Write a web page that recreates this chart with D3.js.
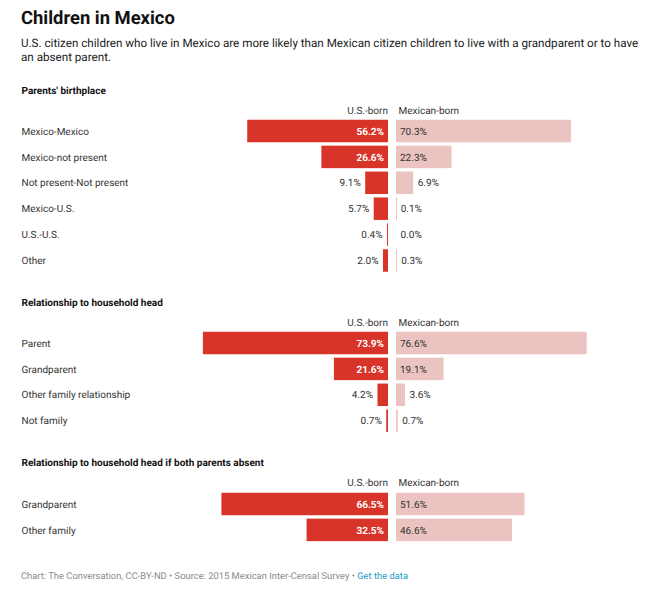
<!DOCTYPE html>
<html><head><meta charset="utf-8">
<script src="https://cdn.jsdelivr.net/npm/d3@7/dist/d3.min.js"></script>
<style>html,body{margin:0;padding:0;background:#fff}svg{display:block;font-family:Roboto,sans-serif;text-rendering:geometricPrecision}</style>
</head><body><svg id="c" width="645" height="595"></svg>
<script>
const sectionTitles = ["Parents' birthplace","Relationship to household head","Relationship to household head if both parents absent"];
const categories1 = ["Mexico-Mexico","Mexico-not present","Not present-Not present","Mexico-U.S.","U.S.-U.S.","Other"];
const usBorn1 = [56.2,26.6,9.1,5.7,0.4,2.0];
const mexBorn1 = [70.3,22.3,6.9,0.1,0.0,0.3];
const categories2 = ["Parent","Grandparent","Other family relationship","Not family"];
const usBorn2 = [73.9,21.6,4.2,0.7];
const mexBorn2 = [76.6,19.1,3.6,0.7];
const categories3 = ["Grandparent","Other family"];
const usBorn3 = [66.5,32.5];
const mexBorn3 = [51.6,46.6];
const seriesNames = ["U.S.-born","Mexican-born"];

const svg = d3.select("#c");
const RED="#d93429", PINK="#ebc3c0", DARK="#333333";
const LABEL=10;
const xL = d3.scaleLinear().domain([0,100]).range([388,137.5]);
const xR = d3.scaleLinear().domain([0,100]).range([396,645]);

svg.append("text").attr("x",21).attr("y",24).attr("font-size",18.4).attr("font-weight",700).attr("fill","#111").text("Children in Mexico");
svg.append("text").attr("x",21).attr("y",47).attr("font-size",11.65).attr("fill","#222").text("U.S. citizen children who live in Mexico are more likely than Mexican citizen children to live with a grandparent or to have");
svg.append("text").attr("x",21).attr("y",61).attr("font-size",11.65).attr("fill","#222").text("an absent parent.");

function section(title,cats,us,mex,titleY,headY,firstCenter){
  svg.append("text").attr("x",21.5).attr("y",titleY).attr("font-size",LABEL).attr("font-weight",700).attr("fill","#111").text(title);
  svg.append("text").attr("x",388).attr("y",headY).attr("text-anchor","end").attr("font-size",LABEL).attr("fill",DARK).text(seriesNames[0]);
  svg.append("text").attr("x",398.5).attr("y",headY).attr("font-size",LABEL).attr("fill",DARK).text(seriesNames[1]);
  const y = d3.scalePoint().domain(cats).range([firstCenter, firstCenter+25.9*(cats.length-1)]);
  const g = svg.append("g").selectAll("g").data(cats).join("g");
  g.append("text").attr("x",21.5).attr("y",c=>y(c)+3.6).attr("font-size",LABEL).attr("fill",DARK).text(c=>c);
  g.each(function(c,i){
    const r=d3.select(this), cy=y(c), h=22.5;
    const u=us[i], m=mex[i];
    r.append("rect").attr("x",xL(u)).attr("y",cy-h/2).attr("width",Math.max(xL(0)-xL(u),1)).attr("height",h).attr("fill",RED);
    r.append("rect").attr("x",xR(0)).attr("y",cy-h/2).attr("width",Math.max(xR(m)-xR(0),m>0?1:0)).attr("height",h).attr("fill",PINK);
    const uIn=u>20, mIn=m>15;
    r.append("text").attr("x",uIn?384:xL(u)-4.5).attr("y",cy+3.6).attr("text-anchor","end").attr("font-size",LABEL)
      .attr("font-weight",uIn?700:400).attr("fill",uIn?"#fff":DARK).text(u.toFixed(1)+"%");
    r.append("text").attr("x",mIn?400:Math.max(xR(m),396)+4.5).attr("y",cy+3.6).attr("font-size",LABEL).attr("fill",DARK).text(m.toFixed(1)+"%");
  });
}
section(sectionTitles[0],categories1,usBorn1,mexBorn1,94,114,131);
section(sectionTitles[1],categories2,usBorn2,mexBorn2,306,326,343);
section(sectionTitles[2],categories3,usBorn3,mexBorn3,466,486,504);

const foot = svg.append("text").attr("x",21).attr("y",579).attr("font-size",9.4).attr("fill","#8a8a8a");
foot.append("tspan").text("Chart: The Conversation, CC-BY-ND • Source: 2015 Mexican Inter-Censal Survey • ");
foot.append("tspan").attr("fill","#1d9bc4").text("Get the data");
</script></body></html>
